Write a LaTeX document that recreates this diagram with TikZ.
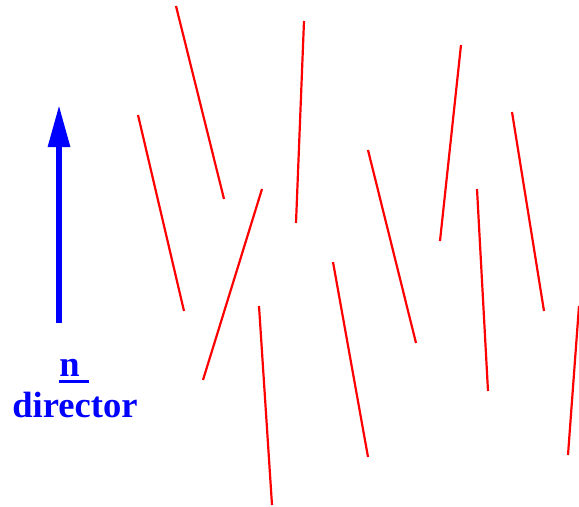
\documentclass[tikz,border=0pt]{standalone}
\usepackage{fontspec}
\setmainfont{Liberation Serif}
\usetikzlibrary{arrows.meta}
\definecolor{RodRed}{HTML}{FF0000}
\definecolor{DirBlue}{HTML}{0000FF}
\tikzset{
    % rods and director
    rod/.style={
        draw=RodRed,
        line width=1.25pt
    },
    dirarrow/.style={
        -{Triangle[length=24pt,width=12pt]},
        draw=DirBlue,
        fill=DirBlue,
        line width=3.4pt
    },
    dirlabel/.style={
        text=DirBlue,
        font=\fontsize{20.8}{25}\selectfont\bfseries,
        align=center,
        inner sep=0pt
    }
}
\begin{document}
\begin{tikzpicture}[x=0.02cm, y=-0.02cm]
    \useasboundingbox (0,0) rectangle (579,507);

    % Rods
    \foreach \xa/\ya/\xb/\yb in {176/6/224/199, 304/21/296/223, 461/45/440/241,
        138/115/184/311, 262/189/203/380, 368/150/416/343, 512/112/544/311,
        477/189/488/391, 333/262/368/457, 259/306/272/505, 579/306/568/455}
        \draw[rod] (\xa,\ya) -- (\xb,\yb);

    % Director
    \coordinate (base) at (59,323);
    \coordinate (tip) at (59,105);
    \draw[dirarrow] (base) -- (tip);
    \node[dirlabel] (n) at (74,368) {n\ };
    \draw[DirBlue, line width=2.2pt] ([yshift=-2.6pt]n.south west) -- ([yshift=-2.6pt]n.south east);
    \node[dirlabel] (dir) at (75,405) {director};
\end{tikzpicture}
\end{document}
